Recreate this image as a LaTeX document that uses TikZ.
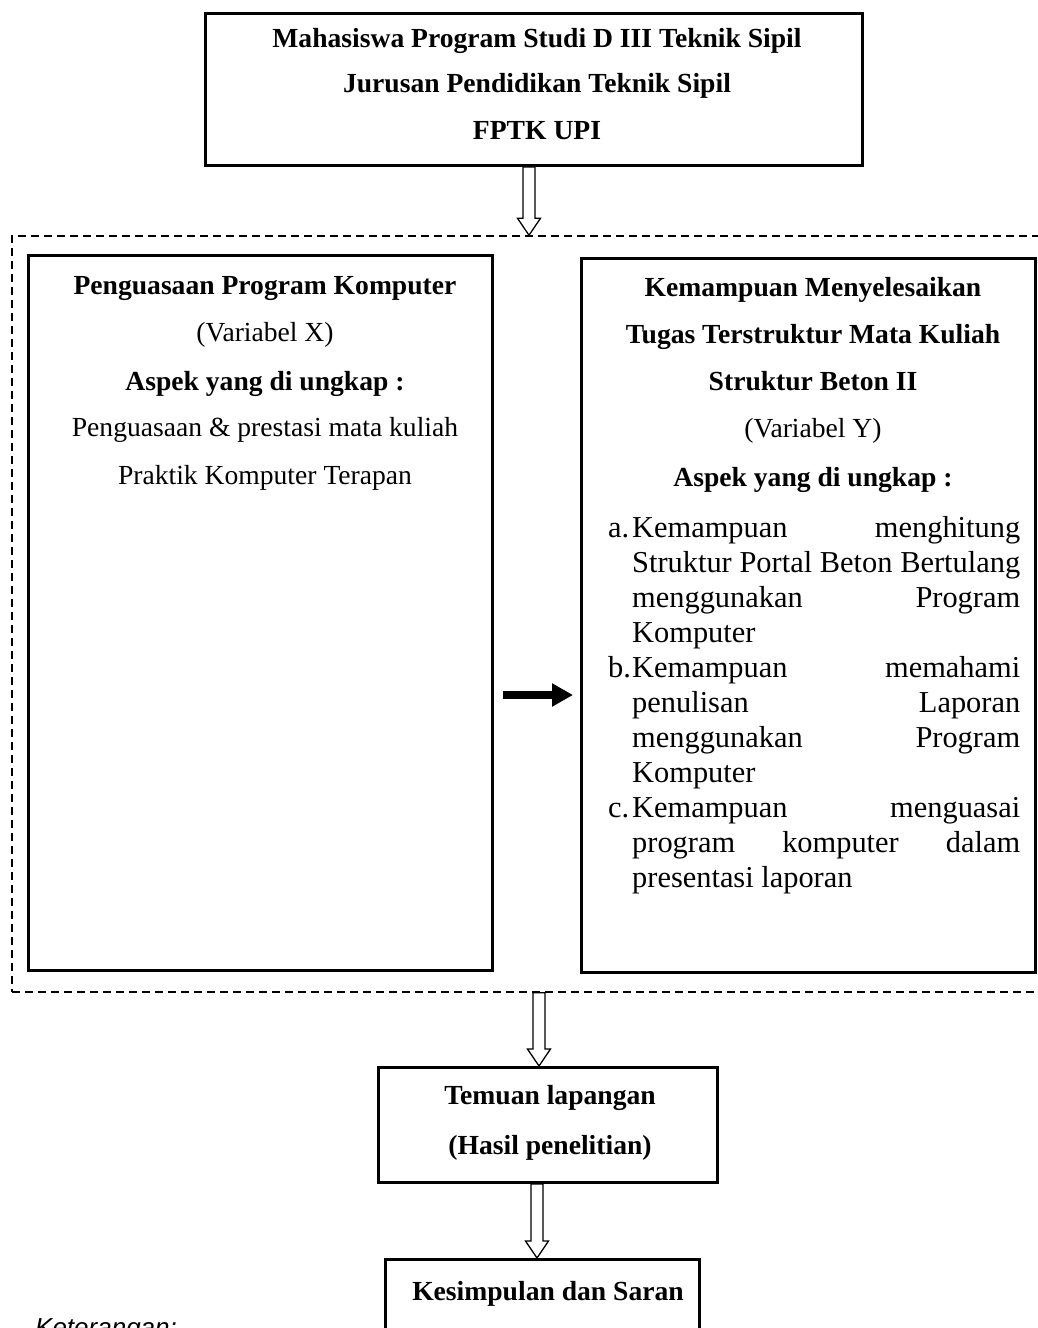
\documentclass[tikz,border=0pt]{standalone}
\usepackage{fontspec}
\setmainfont{Liberation Serif}
\newfontfamily\ketfont{Liberation Sans}
\usetikzlibrary{arrows.meta,calc}
\newcommand\hollowarr[2]{\draw[hollow] let \p1=(#1), \p2=(#2) in (\x1-6pt,\y1) -- (\x1+6pt,\y1) -- (\x1+6pt,\y2+17pt) -- (\x1+11.5pt,\y2+17pt) -- (\x1,\y2) -- (\x1-11.5pt,\y2+17pt) -- (\x1-6pt,\y2+17pt) -- cycle;}
\newcommand\jline[1]{\makebox[388pt][s]{#1}}
\begin{document}
\begin{tikzpicture}[x=1pt,y=-1pt,
 box/.style={draw, line width=3pt, inner sep=0pt},
 hd/.style={anchor=base, inner sep=0pt, font=\fontsize{27.6}{33}\selectfont\bfseries},
 tx/.style={anchor=base, inner sep=0pt, font=\fontsize{27.6}{33}\selectfont},
 li/.style={anchor=base west, inner sep=0pt, font=\fontsize{30.4}{35}\selectfont},
 hollow/.style={draw, line width=1.3pt, fill=white, line join=miter},
 dashbox/.style={draw, line width=1.5pt, dash pattern=on 8pt off 5pt, inner sep=0pt}
]
\useasboundingbox (0,0) rectangle (1038,1328);

% boxes
\node[box, minimum width=657, minimum height=152] (top) at (534,89.5) {};
\node[dashbox, minimum width=1033, minimum height=756] (dbox) at (528.5,614) {};
\node[box, minimum width=464, minimum height=715] (lbox) at (260.5,613) {};
\node[box, minimum width=454, minimum height=714] (rbox) at (808.5,615.5) {};
\node[box, minimum width=339, minimum height=115] (tem) at (548,1125) {};
\node[box, minimum width=314, minimum height=120] (kes) at (542.5,1319.5) {};

% top box text
\node[hd] (t1) at (537,47) {Mahasiswa Program Studi D III Teknik Sipil};
\node[hd] (t2) at (537,92) {Jurusan Pendidikan Teknik Sipil};
\node[hd] (t3) at (537,139) {FPTK UPI};

% left box text
\node[hd] (l1) at (265,294) {Penguasaan Program Komputer};
\node[tx] (l2) at (265,341) {(Variabel X)};
\node[hd] (l3) at (265,390) {Aspek yang di ungkap :};
\node[tx] (l4) at (265,436) {Penguasaan \& prestasi mata kuliah};
\node[tx] (l5) at (265,484) {Praktik Komputer Terapan};

% right box text
\node[hd] (r1) at (813,296) {Kemampuan Menyelesaikan};
\node[hd] (r2) at (813,343) {Tugas Terstruktur Mata Kuliah};
\node[hd] (r3) at (813,390) {Struktur Beton II};
\node[tx] (r4) at (813,437) {(Variabel Y)};
\node[hd] (r5) at (813,486) {Aspek yang di ungkap :};

% list
\node[li] (la) at (608,537) {a.};
\node[li] (la1) at (632,537) {\jline{Kemampuan menghitung}};
\node[li] (la2) at (632,572) {\jline{Struktur Portal Beton Bertulang}};
\node[li] (la3) at (632,607) {\jline{menggunakan Program}};
\node[li] (la4) at (632,642) {Komputer};
\node[li] (lb) at (608,677) {b.};
\node[li] (lb1) at (632,677) {\jline{Kemampuan memahami}};
\node[li] (lb2) at (632,712) {\jline{penulisan Laporan}};
\node[li] (lb3) at (632,747) {\jline{menggunakan Program}};
\node[li] (lb4) at (632,782) {Komputer};
\node[li] (lc) at (608,817) {c.};
\node[li] (lc1) at (632,817) {\jline{Kemampuan menguasai}};
\node[li] (lc2) at (632,852) {\jline{program komputer dalam}};
\node[li] (lc3) at (632,887) {presentasi laporan};

% bottom boxes text
\node[hd] (m1) at (550,1104) {Temuan lapangan};
\node[hd] (m2) at (550,1154) {(Hasil penelitian)};
\node[hd] (k1) at (548,1300) {Kesimpulan dan Saran};
\node[anchor=base west, inner sep=0pt, font=\fontsize{26}{30}\selectfont\ketfont\itshape] (ket) at (35,1336) {Keterangan:};

% connectors
\coordinate (x1) at (529,0);
\coordinate (x2) at (539,0);
\coordinate (x3) at (537,0);
\coordinate (ba) at (0,695);
\hollowarr{top.south -| x1}{dbox.north -| x1}
\hollowarr{dbox.south -| x2}{tem.north -| x2}
\hollowarr{tem.south -| x3}{kes.north -| x3}
\draw[line width=8pt, -{Triangle[length=21pt,width=22pt]}, shorten <=9pt, shorten >=7pt] (lbox.east |- ba) -- (rbox.west |- ba);
\end{tikzpicture}
\end{document}
